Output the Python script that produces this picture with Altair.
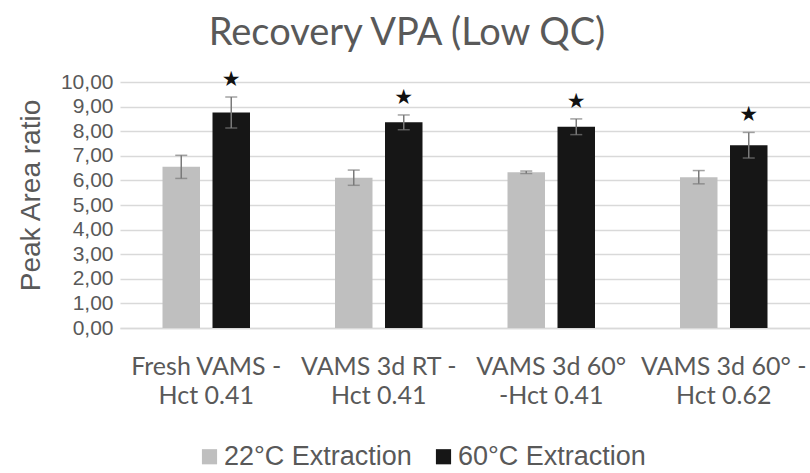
import altair as alt
import pandas as pd

# ---- data ----
line1 = ["Fresh VAMS -", "VAMS 3d RT -", "VAMS 3d 60°", "VAMS 3d 60° -"]
line2 = ["Hct 0.41", "Hct 0.41", "-Hct 0.41", "Hct 0.62"]
series = ["22°C Extraction", "60°C Extraction"]
vals_22 = [6.55, 6.11, 6.33, 6.13]
err_22 = [0.47, 0.31, 0.05, 0.27]
vals_60 = [8.76, 8.36, 8.18, 7.43]
err_60 = [0.63, 0.30, 0.32, 0.52]
star_60 = ["★", "★", "★", "★"]
y_ticks = [0, 1, 2, 3, 4, 5, 6, 7, 8, 9, 10]

cats = [a + "|" + b for a, b in zip(line1, line2)]
rows = []
for i, c in enumerate(cats):
    rows.append({"cat": c, "series": series[0], "value": vals_22[i], "err": err_22[i], "star": ""})
    rows.append({"cat": c, "series": series[1], "value": vals_60[i], "err": err_60[i], "star": star_60[i]})
df = pd.DataFrame(rows)
df["lo"] = df["value"] - df["err"]
df["hi"] = df["value"] + df["err"]

TXT = "#595959"

x = alt.X("cat:N", sort=cats, title=None,
          scale=alt.Scale(paddingInner=0, paddingOuter=0),
          axis=alt.Axis(labelExpr="split(datum.label, '|')", labelFont="Lato",
                        labelFontSize=25, labelColor=TXT, labelLineHeight=29,
                        labelPadding=26, labelAngle=0, labelLimit=300,
                        labelOverlap=False, ticks=False, domainColor="#d9d9d9",
                        domainWidth=1.5, labelBaseline="top"))
xo = alt.XOffset("series:N", sort=series,
                 scale=alt.Scale(paddingInner=0.25, paddingOuter=0.85))

y_scale = alt.Scale(domain=[0, 10], nice=False)
y_axis = alt.Axis(values=y_ticks, tickCount=len(y_ticks) + 5, labelOverlap=False,
                  labelExpr="replace(format(datum.value, '.2f'), '.', ',')",
                  labelFont="Liberation Sans", labelFontSize=21, labelColor=TXT,
                  labelPadding=7, ticks=False, domain=False,
                  gridColor="#d9d9d9", gridWidth=1.5,
                  titleFont="Liberation Sans", titleFontSize=28,
                  titleColor=TXT, titleFontWeight="normal",
                  titleX=-89, titleY=113, titleAlign="center",
                  titleBaseline="middle", titleAngle=-90)


def Y(field):
    return alt.Y(field, scale=y_scale, axis=y_axis, title="Peak Area ratio")


bars = alt.Chart(df).mark_bar().encode(
    x=x, xOffset=xo,
    y=Y("value:Q"),
    color=alt.Color("series:N", sort=series,
                    scale=alt.Scale(domain=series, range=["#bfbfbf", "#161616"]),
                    legend=alt.Legend(title=None, orient="none", legendX=76, legendY=361,
                                      direction="horizontal", symbolType="square",
                                      symbolSize=230, symbolStrokeWidth=0,
                                      labelFont="Liberation Sans", labelFontSize=27,
                                      labelColor=TXT, labelOffset=1, columnPadding=18,
                                      labelLimit=400)),
)

rules = alt.Chart(df).mark_rule(color="#7a7a7a", strokeWidth=1.5).encode(
    x=x, xOffset=xo, y=Y("lo:Q"), y2="hi:Q")
caps_hi = alt.Chart(df).mark_tick(color="#7a7a7a", thickness=1.5, size=12).encode(
    x=x, xOffset=xo, y=Y("hi:Q"))
caps_lo = alt.Chart(df).mark_tick(color="#7a7a7a", thickness=1.5, size=12).encode(
    x=x, xOffset=xo, y=Y("lo:Q"))
stars = alt.Chart(df).mark_text(font="DejaVu Sans", fontSize=21, color="#111111",
                                dy=-17, baseline="middle").encode(
    x=x, xOffset=xo, y=Y("hi:Q"), text="star:N")

chart = alt.layer(bars, rules, caps_hi, caps_lo, stars).properties(
    width=690, height=246,
    title=alt.TitleParams("Recovery VPA (Low QC)", font="Lato", fontSize=38,
                          fontWeight="normal", color=TXT, anchor="middle",
                          dx=-58, offset=16),
    autosize=alt.AutoSizeParams(type="none"),
    padding={"left": 120, "top": 82, "right": 0, "bottom": 145},
).configure_view(stroke=None)

chart.save("out.html", embed_options={"renderer": "svg", "actions": False})
